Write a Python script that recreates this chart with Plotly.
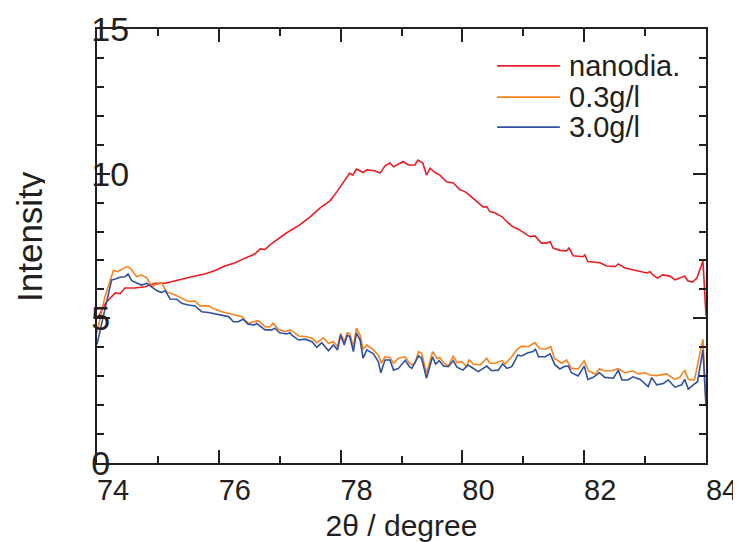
import plotly.graph_objects as go

# ---- data ----
red_x = [74.00, 74.15, 74.30, 74.38, 74.46, 74.62, 74.79, 74.95, 75.12, 75.28, 75.45, 75.61, 75.77, 75.94,
         76.10, 76.27, 76.43, 76.51, 76.59, 76.68, 76.76, 76.84, 77.00, 77.11, 77.33, 77.50, 77.66, 77.83,
         77.94, 78.04, 78.15, 78.20, 78.26, 78.37, 78.43, 78.56, 78.65, 78.73, 78.81, 78.87, 79.03, 79.11,
         79.22, 79.27, 79.35, 79.41, 79.47, 79.55, 79.63, 79.74, 79.85, 79.96, 80.04, 80.09, 80.17, 80.26,
         80.34, 80.40, 80.45, 80.54, 80.65, 80.73, 80.83, 80.91, 81.00, 81.11, 81.19, 81.30, 81.38, 81.44,
         81.49, 81.60, 81.71, 81.75, 81.82, 81.98, 82.01, 82.06, 82.26, 82.37, 82.51, 82.56, 82.67, 82.80,
         82.92, 83.03, 83.08, 83.13, 83.20, 83.29, 83.41, 83.49, 83.57, 83.65, 83.70, 83.78, 83.85, 83.95,
         84.00]
red_y = [4.98, 5.55, 5.88, 5.85, 6.05, 6.05, 6.09, 6.21, 6.21, 6.30, 6.39, 6.46, 6.53, 6.65,
         6.81, 6.92, 7.08, 7.16, 7.22, 7.40, 7.38, 7.54, 7.78, 7.95, 8.23, 8.51, 8.81, 9.07,
         9.38, 9.68, 10.02, 9.95, 10.16, 10.04, 10.13, 10.10, 10.02, 10.27, 10.37, 10.24, 10.42, 10.30,
         10.30, 10.47, 10.37, 9.95, 10.19, 10.04, 9.95, 9.72, 9.68, 9.44, 9.38, 9.30, 9.16, 9.00,
         8.85, 8.86, 8.69, 8.64, 8.51, 8.34, 8.16, 8.09, 7.96, 7.82, 7.85, 7.60, 7.60, 7.65,
         7.43, 7.35, 7.33, 7.43, 7.16, 7.13, 7.19, 6.96, 6.92, 6.81, 6.79, 6.88, 6.74, 6.67,
         6.61, 6.57, 6.61, 6.50, 6.39, 6.50, 6.46, 6.33, 6.39, 6.46, 6.30, 6.25, 6.39, 6.98,
         5.09]

orange_x = [74.00, 74.13, 74.27, 74.34, 74.46, 74.51, 74.57, 74.65, 74.73, 74.82, 74.90, 74.95, 75.06, 75.14,
            75.28, 75.39, 75.50, 75.61, 75.69, 75.83, 75.94, 76.05, 76.16, 76.27, 76.38, 76.43, 76.48, 76.57,
            76.65, 76.76, 76.84, 76.89, 76.98, 77.09, 77.17, 77.22, 77.31, 77.42, 77.53, 77.61, 77.72, 77.80,
            77.88, 77.95, 78.00, 78.06, 78.11, 78.15, 78.21, 78.26, 78.32, 78.37, 78.43, 78.54, 78.62, 78.67,
            78.73, 78.81, 78.87, 78.95, 79.06, 79.13, 79.17, 79.22, 79.28, 79.33, 79.41, 79.51, 79.58, 79.63,
            79.69, 79.77, 79.85, 79.91, 79.99, 80.07, 80.11, 80.18, 80.29, 80.40, 80.45, 80.54, 80.65, 80.70,
            80.81, 80.89, 80.97, 81.08, 81.19, 81.27, 81.36, 81.45, 81.51, 81.63, 81.68, 81.71, 81.79, 81.90,
            82.00, 82.07, 82.18, 82.25, 82.34, 82.45, 82.56, 82.67, 82.80, 82.89, 83.00, 83.08, 83.19, 83.27,
            83.35, 83.49, 83.57, 83.65, 83.71, 83.81, 83.95, 84.00]
orange_y = [4.50, 5.75, 6.65, 6.61, 6.76, 6.79, 6.67, 6.44, 6.50, 6.39, 6.09, 6.15, 6.23, 5.92,
            5.81, 5.69, 5.58, 5.60, 5.43, 5.43, 5.31, 5.23, 5.17, 5.12, 5.06, 4.94, 4.83, 4.88,
            4.92, 4.71, 4.71, 4.83, 4.62, 4.54, 4.60, 4.54, 4.39, 4.37, 4.31, 4.16, 4.33, 4.14,
            4.19, 4.02, 4.48, 4.19, 4.50, 4.48, 4.02, 4.66, 4.42, 3.93, 4.08, 3.91, 3.73, 3.45,
            3.67, 3.65, 3.45, 3.62, 3.67, 3.45, 3.39, 3.45, 3.85, 3.79, 3.10, 3.85, 3.62, 3.65,
            3.47, 3.35, 3.70, 3.47, 3.50, 3.33, 3.56, 3.42, 3.39, 3.62, 3.45, 3.45, 3.54, 3.42,
            3.67, 3.91, 4.04, 4.02, 4.16, 3.96, 3.93, 4.02, 3.62, 3.45, 3.54, 3.56, 3.27, 3.25,
            3.53, 3.19, 3.07, 3.25, 3.18, 3.19, 3.26, 3.12, 3.18, 3.08, 3.12, 3.04, 3.02, 3.04,
            3.08, 2.89, 2.96, 3.21, 2.89, 2.87, 4.28, 2.04]

blue_x = [74.00, 74.24, 74.30, 74.38, 74.46, 74.51, 74.57, 74.65, 74.73, 74.82, 74.90, 74.98, 75.06, 75.12,
          75.20, 75.31, 75.39, 75.50, 75.61, 75.72, 75.83, 75.94, 76.05, 76.16, 76.24, 76.32, 76.40, 76.48,
          76.59, 76.62, 76.76, 76.87, 76.92, 77.00, 77.11, 77.17, 77.20, 77.31, 77.42, 77.53, 77.61, 77.69,
          77.80, 77.88, 77.95, 78.00, 78.06, 78.11, 78.15, 78.21, 78.26, 78.32, 78.37, 78.43, 78.54, 78.62,
          78.66, 78.73, 78.81, 78.87, 78.95, 79.06, 79.13, 79.17, 79.28, 79.33, 79.41, 79.51, 79.56, 79.62,
          79.69, 79.77, 79.85, 79.91, 80.01, 80.09, 80.15, 80.26, 80.40, 80.48, 80.59, 80.66, 80.73, 80.81,
          80.91, 80.97, 81.08, 81.16, 81.20, 81.25, 81.36, 81.44, 81.52, 81.60, 81.68, 81.74, 81.79, 81.90,
          82.00, 82.06, 82.15, 82.25, 82.34, 82.48, 82.56, 82.62, 82.72, 82.80, 82.92, 83.05, 83.11, 83.19,
          83.30, 83.38, 83.49, 83.60, 83.65, 83.71, 83.79, 83.86, 83.95, 84.00]
blue_y = [4.10, 6.33, 6.36, 6.42, 6.44, 6.53, 6.30, 6.23, 6.15, 6.21, 6.07, 5.96, 5.89, 5.96,
          5.67, 5.66, 5.52, 5.46, 5.43, 5.23, 5.20, 5.15, 5.09, 5.06, 4.88, 4.88, 4.97, 4.80,
          4.77, 4.83, 4.60, 4.60, 4.66, 4.50, 4.46, 4.50, 4.42, 4.25, 4.28, 4.19, 4.00, 4.16,
          3.88, 4.08, 3.91, 4.42, 4.08, 4.42, 4.37, 3.85, 4.50, 4.25, 3.62, 3.91, 3.77, 3.50,
          3.12, 3.56, 3.56, 3.21, 3.27, 3.55, 3.33, 3.27, 3.70, 3.62, 2.93, 3.67, 3.42, 3.54,
          3.35, 3.33, 3.54, 3.31, 3.21, 3.39, 3.31, 3.16, 3.35, 3.19, 3.21, 3.42, 3.27, 3.33,
          3.73, 3.70, 3.81, 3.85, 3.93, 3.67, 3.67, 3.77, 3.39, 3.25, 3.34, 3.35, 3.12, 3.01,
          3.35, 2.89, 2.96, 3.12, 2.96, 2.93, 3.21, 2.87, 2.87, 2.98, 2.89, 2.64, 2.95, 2.70,
          2.75, 2.87, 2.62, 2.70, 2.89, 2.55, 2.70, 2.81, 3.91, 1.95]

series_names = ["nanodia.", "0.3g/l", "3.0g/l"]
series_colors = ["#ec1c24", "#f7821e", "#3150a0"]

x_range = [74, 84]
y_range = [0, 15]
x_ticks = [74, 76, 78, 80, 82, 84]
y_ticks = [0, 5, 10, 15]
y_ticktext = ["0\u2007", "5\u2007", "10", "15"]
x_title = "2θ / degree"
y_title = "Intensity"

ink = "#231f20"
font_family = "Liberation Sans, Arial, sans-serif"

fig = go.Figure()
for xs, ys, name, col in zip([red_x, orange_x, blue_x], [red_y, orange_y, blue_y],
                             series_names, series_colors):
    fig.add_trace(go.Scatter(x=xs, y=ys, mode="lines", name=name,
                             line=dict(color=col, width=1.6), showlegend=False))

# manual legend (long sample lines, tight rows)
leg_y = [0.915, 0.843, 0.774]
for yy, name, col in zip(leg_y, series_names, series_colors):
    fig.add_shape(type="line", xref="paper", yref="paper", x0=0.657, x1=0.760, y0=yy, y1=yy,
                  line=dict(color=col, width=1.6))
    fig.add_annotation(xref="paper", yref="paper", x=0.772, y=yy, text=name, showarrow=False,
                       xanchor="left", yanchor="middle", font=dict(size=29, color=ink, family=font_family))

# y-axis title placed as rotated text, left of the axis
fig.add_annotation(xref="paper", yref="paper", x=-0.1108, y=0.522, text=y_title, showarrow=False,
                   textangle=-90, xanchor="center", yanchor="middle", height=32, borderpad=0,
                   font=dict(size=35, color=ink, family=font_family))

fig.update_xaxes(
    range=x_range, tickvals=x_ticks, ticktext=[str(v) for v in x_ticks],
    ticks="inside", ticklen=13, tickwidth=2, tickcolor=ink,
    showline=True, linewidth=2, linecolor=ink, mirror="ticks",
    showgrid=False, zeroline=False,
    ticklabelposition="outside", ticklabelshift=16,
    tickfont=dict(size=29, color=ink, family=font_family),
    minor=dict(ticks="inside", ticklen=7, tickwidth=2, tickcolor=ink, dtick=1, tick0=74, showgrid=False),
    title=dict(text=x_title, font=dict(size=30, color=ink, family=font_family)),
)
fig.update_yaxes(
    range=y_range, tickvals=y_ticks, ticktext=y_ticktext,
    ticks="inside", ticklen=13, tickwidth=2, tickcolor=ink,
    showline=True, linewidth=2, linecolor=ink, mirror="ticks",
    showgrid=False, zeroline=False,
    ticklabelposition="outside", ticklabelstandoff=-41,
    tickfont=dict(size=34, color=ink, family=font_family),
    minor=dict(ticks="inside", ticklen=7, tickwidth=2, tickcolor=ink, dtick=1, tick0=0, showgrid=False),
)

# page body adds an 8px offset, so the figure is 8px smaller than the window
fig.update_layout(
    width=733, height=534,
    margin=dict(l=89, r=35, t=21, b=79, autoexpand=False),
    plot_bgcolor="white", paper_bgcolor="white",
    font=dict(family=font_family, color=ink),
)

fig.write_html("out.html")
